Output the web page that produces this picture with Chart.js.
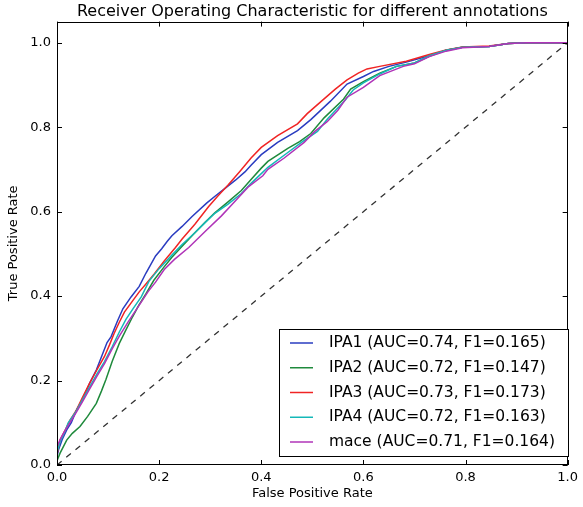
<!DOCTYPE html>
<html><head><meta charset="utf-8">
<script src="https://cdn.jsdelivr.net/npm/chart.js@4/dist/chart.umd.min.js"></script>
<style>html,body{margin:0;padding:0;background:#fff;}#wrap{width:583px;height:507px;position:relative;}</style>
</head><body><div id="wrap"><canvas id="c" width="583" height="507"></canvas></div>
<script>
const seriesNames = ["IPA1", "IPA2", "IPA3", "IPA4", "mace"];
const aucValues = ["0.74", "0.72", "0.73", "0.72", "0.71"];
const f1Values = ["0.165", "0.147", "0.173", "0.163", "0.164"];
const seriesColors = ["#2a3cc0", "#1f8a3c", "#f02424", "#14b8b8", "#b034b8"];

const ipa1Fpr = [0,0,0.003,0.01,0.019,0.028,0.038,0.05,0.064,0.077,0.09,0.098,0.106,0.118,0.129,0.145,0.161,0.174,0.193,0.205,0.216,0.225,0.245,0.264,0.293,0.31,0.329,0.35,0.368,0.38,0.4,0.432,0.471,0.497,0.535,0.568,0.6,0.62,0.65,0.684,0.729,0.762,0.794,0.846,0.884,0.92,1.0];
const ipa1Tpr = [0,0.02,0.036,0.06,0.083,0.1,0.13,0.155,0.194,0.225,0.265,0.29,0.304,0.34,0.37,0.398,0.423,0.454,0.495,0.512,0.53,0.543,0.565,0.588,0.62,0.637,0.655,0.675,0.694,0.71,0.735,0.764,0.792,0.818,0.861,0.902,0.92,0.932,0.944,0.954,0.969,0.982,0.989,0.991,0.998,1.0,1.0];

const ipa2Fpr = [0,0,0.006,0.019,0.03,0.045,0.06,0.077,0.087,0.096,0.108,0.122,0.135,0.148,0.16,0.174,0.19,0.209,0.225,0.245,0.27,0.29,0.309,0.335,0.361,0.38,0.4,0.413,0.452,0.475,0.497,0.523,0.561,0.575,0.6,0.632,0.665,0.7,0.729,0.762,0.794,0.846,0.884,0.92,1];
const ipa2Tpr = [0,0.01,0.028,0.059,0.075,0.091,0.115,0.146,0.175,0.203,0.245,0.288,0.32,0.351,0.378,0.405,0.438,0.468,0.492,0.518,0.55,0.575,0.597,0.623,0.65,0.676,0.703,0.719,0.75,0.766,0.785,0.822,0.866,0.89,0.908,0.928,0.944,0.952,0.968,0.982,0.989,0.991,0.998,1,1];

const ipa3Fpr = [0,0,0.006,0.015,0.025,0.038,0.05,0.064,0.078,0.093,0.103,0.112,0.122,0.132,0.147,0.161,0.175,0.19,0.21,0.232,0.245,0.27,0.297,0.315,0.335,0.358,0.38,0.4,0.432,0.471,0.49,0.523,0.545,0.568,0.59,0.607,0.632,0.684,0.729,0.762,0.794,0.846,0.884,0.92,1];
const ipa3Tpr = [0,0.025,0.059,0.08,0.105,0.13,0.16,0.194,0.225,0.257,0.285,0.312,0.338,0.362,0.387,0.41,0.43,0.452,0.483,0.515,0.535,0.57,0.612,0.637,0.663,0.695,0.727,0.752,0.78,0.808,0.832,0.867,0.89,0.912,0.928,0.938,0.944,0.956,0.972,0.983,0.99,0.992,0.998,1,1];

const ipa4Fpr = [0,0,0.006,0.015,0.022,0.038,0.05,0.064,0.078,0.093,0.108,0.122,0.135,0.15,0.165,0.18,0.2,0.225,0.245,0.27,0.29,0.309,0.335,0.361,0.38,0.4,0.413,0.452,0.48,0.51,0.53,0.565,0.58,0.6,0.632,0.665,0.7,0.729,0.762,0.794,0.846,0.884,0.92,1];
const ipa4Tpr = [0,0.03,0.055,0.078,0.1,0.128,0.155,0.185,0.215,0.245,0.28,0.315,0.345,0.372,0.398,0.435,0.465,0.497,0.522,0.55,0.574,0.596,0.618,0.643,0.667,0.69,0.705,0.74,0.765,0.79,0.82,0.865,0.888,0.905,0.926,0.944,0.952,0.969,0.982,0.989,0.991,0.998,1,1];

const maceFpr = [0,0,0.006,0.015,0.025,0.038,0.05,0.064,0.078,0.093,0.108,0.122,0.14,0.164,0.178,0.193,0.21,0.23,0.258,0.29,0.322,0.345,0.374,0.403,0.413,0.445,0.484,0.505,0.529,0.55,0.568,0.6,0.632,0.678,0.7,0.729,0.762,0.794,0.846,0.884,0.92,1];
const maceTpr = [0,0.043,0.06,0.08,0.1,0.125,0.15,0.18,0.21,0.24,0.275,0.305,0.34,0.384,0.41,0.433,0.463,0.487,0.515,0.553,0.59,0.62,0.658,0.685,0.7,0.727,0.764,0.79,0.813,0.84,0.871,0.894,0.922,0.944,0.95,0.967,0.98,0.988,0.991,0.998,1,1];

const chanceFpr = [0, 1];
const chanceTpr = [0, 1];

const xTicks = [0, 0.2, 0.4, 0.6, 0.8, 1.0];
const yTicks = [0, 0.2, 0.4, 0.6, 0.8, 1.0];

const fprList = [ipa1Fpr, ipa2Fpr, ipa3Fpr, ipa4Fpr, maceFpr];
const tprList = [ipa1Tpr, ipa2Tpr, ipa3Tpr, ipa4Tpr, maceTpr];

function pts(xs, ys) { return xs.map((x, i) => ({x: x, y: ys[i]})); }

Chart.defaults.font.family = "'DejaVu Sans', sans-serif";
Chart.defaults.color = "#000";

const datasets = seriesNames.map((n, i) => ({
  label: n + " (AUC=" + aucValues[i] + ", F1=" + f1Values[i] + ")",
  data: pts(fprList[i], tprList[i]),
  borderColor: seriesColors[i],
  backgroundColor: seriesColors[i],
  borderWidth: 1.5,
  pointRadius: 0,
  tension: 0,
  fill: false,
  order: 5 - i
}));
datasets.push({
  label: "chance",
  data: pts(chanceFpr, chanceTpr),
  borderColor: "#333",
  borderWidth: 1.3,
  borderDash: [6, 6],
  pointRadius: 0,
  fill: false,
  order: 6
});

const titleCenter = {
  id: "titleCenter",
  beforeDraw(chart) {
    const tb = chart.titleBlock;
    if (tb) { tb.left = chart.chartArea.left; tb.right = chart.chartArea.right; }
  }
};

const framePlugin = {
  id: "frameTicks",
  afterDatasetsDraw(chart) {
    const {ctx, chartArea: a, scales} = chart;
    ctx.save();
    ctx.strokeStyle = "#000";
    ctx.lineWidth = 1;
    const tl = 5;
    ctx.beginPath();
    xTicks.forEach(v => {
      const px = Math.round(scales.x.getPixelForValue(v)) + 0.5;
      ctx.moveTo(px, a.bottom); ctx.lineTo(px, a.bottom - tl);
      ctx.moveTo(px, a.top); ctx.lineTo(px, a.top + tl);
    });
    yTicks.forEach(v => {
      const py = Math.round(scales.y.getPixelForValue(v)) + 0.5;
      ctx.moveTo(a.left, py); ctx.lineTo(a.left + tl, py);
      ctx.moveTo(a.right, py); ctx.lineTo(a.right - tl, py);
    });
    ctx.stroke();
    ctx.strokeRect(Math.round(a.left) + 0.5, Math.round(a.top) + 0.5, Math.round(a.right - a.left) - 1, Math.round(a.bottom - a.top) - 1);

    // legend box (lower right)
    const bx = 279.5, by = 329.5, bw = 289, bh = 127;
    ctx.fillStyle = "#fff";
    ctx.fillRect(bx, by, bw, bh);
    ctx.strokeStyle = "#000";
    ctx.strokeRect(bx, by, bw, bh);
    ctx.font = "15.5px 'DejaVu Sans', sans-serif";
    ctx.textBaseline = "middle";
    ctx.textAlign = "left";
    for (let i = 0; i < seriesNames.length; i++) {
      const ds = chart.data.datasets[i];
      const y = 343 + i * 24.75;
      ctx.strokeStyle = ds.borderColor;
      ctx.lineWidth = 1.5;
      ctx.beginPath();
      ctx.moveTo(290, y); ctx.lineTo(313, y);
      ctx.stroke();
      ctx.fillStyle = "#000";
      ctx.fillText(ds.label, 329, y);
    }
    ctx.restore();
  }
};

new Chart(document.getElementById("c"), {
  type: "line",
  data: { datasets: datasets },
  options: {
    responsive: false,
    animation: false,
    devicePixelRatio: 1,
    layout: { padding: { left: 0, right: 10, top: 0, bottom: 0 } },
    plugins: {
      legend: { display: false },
      tooltip: { enabled: false },
      title: {
        display: true,
        text: "Receiver Operating Characteristic for different annotations",
        font: { size: 16, weight: "normal", lineHeight: 1.1 },
        color: "#000",
        padding: { top: 3, bottom: 1 }
      }
    },
    scales: {
      x: {
        type: "linear", min: 0, max: 1,
        afterBuildTicks: s => { s.ticks = xTicks.map(v => ({value: v})); },
        afterFit: s => { s.height = 42; },
        ticks: { callback: v => v.toFixed(1), padding: 5, font: { size: 13 }, color: "#000", maxRotation: 0 },
        grid: { display: false, drawTicks: false },
        border: { display: false },
        title: { display: true, text: "False Positive Rate", font: { size: 13 }, color: "#000", padding: { top: 0, bottom: 6 } }
      },
      y: {
        type: "linear", min: 0, max: 1.05,
        afterBuildTicks: s => { s.ticks = yTicks.map(v => ({value: v})); },
        afterFit: s => { s.width = 57; },
        ticks: { callback: v => v.toFixed(1), padding: 6, font: { size: 13 }, color: "#000" },
        grid: { display: false, drawTicks: false },
        border: { display: false },
        title: { display: true, text: "True Positive Rate", font: { size: 13 }, color: "#000", padding: { top: 6, bottom: 0 } }
      }
    }
  },
  plugins: [titleCenter, framePlugin]
});
</script>
</body></html>
